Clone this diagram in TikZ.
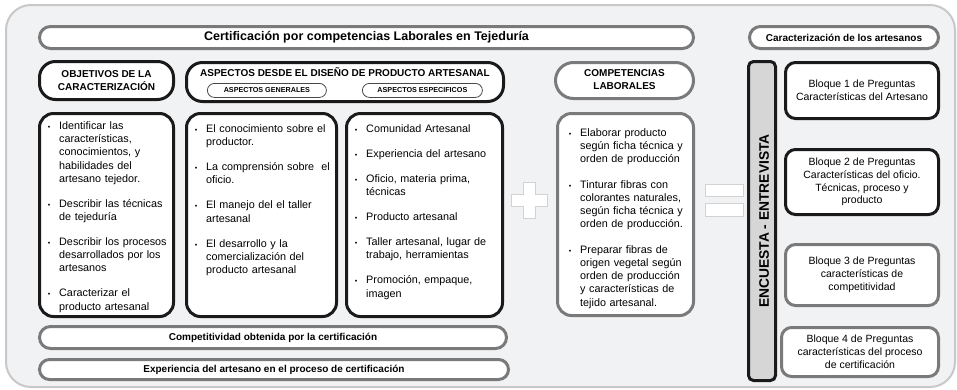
\documentclass[tikz,border=0pt]{standalone}
\usepackage{fontspec}
\setmainfont{Liberation Sans}
\usepackage{enumitem}
\definecolor{inkblack}{HTML}{1A1A1A}
\definecolor{rimgray}{HTML}{7A7A7A}
\definecolor{framegray}{HTML}{C8C8C8}
\definecolor{bgfill}{HTML}{F1F2F4}
\definecolor{barfill}{HTML}{D6D6D6}
\definecolor{signgray}{HTML}{D2D2D2}
\newcommand{\listfont}{\fontsize{10.8}{13.2}\selectfont}
\newcommand{\headfont}{\fontsize{10}{12.5}\selectfont\bfseries}
\setlist[itemize]{label={\fontsize{7}{7}\selectfont\textbullet},leftmargin=13pt,labelsep=9pt,
	topsep=0pt,partopsep=0pt,parsep=0pt,itemsep=11.8pt}
\tikzset{
	blackbox/.style={draw=inkblack,line width=3pt,fill=white,rounded corners=#1,anchor=north west,inner sep=0pt},
	blackbox/.default=14pt,
	graybox/.style={draw=rimgray,line width=3pt,fill=white,rounded corners=#1,anchor=north west,inner sep=0pt},
	graybox/.default=14pt,
	pill/.style={draw=inkblack!80,line width=0.8pt,fill=white,rounded corners=7pt,anchor=north west,
		minimum height=14pt,font=\fontsize{7.2}{8}\selectfont\bfseries},
	listtext/.style={anchor=north west,inner sep=0pt,text width=#1,align=left,font=\listfont},
	blocktext/.style={align=center,font=\fontsize{10.5}{12.8}\selectfont},
	sign/.style={draw=signgray,line width=0.6pt,fill=white}
}
\begin{document}
\begin{tikzpicture}[x=1pt,y=-1pt]
	\useasboundingbox (0,0) rectangle (957,389);
	\draw[draw=framegray,line width=2pt,fill=bgfill,rounded corners=25pt] (6,5) rectangle (955,387);

	\node[graybox=11pt,minimum width=654,minimum height=22,font=\fontsize{12.5}{14}\selectfont\bfseries] (title) at (38,25)
		{Certificación por competencias Laborales en Tejeduría};
	\node[graybox=11pt,minimum width=189,minimum height=22,font=\headfont] (carac) at (748,25)
		{Caracterización de los artesanos};

	\node[blackbox=16pt,minimum width=134,minimum height=38,align=center,font=\headfont] (objhead) at (38,60)
		{OBJETIVOS DE LA\\CARACTERIZACIÓN};
	\node[blackbox=16pt,minimum width=317,minimum height=39] (asphead) at (185,61) {};
	\node[font=\headfont] (asptitle) at (345,72) {ASPECTOS DESDE EL DISEÑO DE PRODUCTO ARTESANAL};
	\node[pill,minimum width=119] (genpill) at (207,83) {ASPECTOS GENERALES};
	\node[pill,minimum width=120] (esppill) at (362,83) {ASPECTOS ESPECIFICOS};
	\node[graybox=18pt,minimum width=138,minimum height=36,align=center,font=\headfont] (comphead) at (554,61)
		{\raisebox{-2pt}{\begin{tabular}{@{}c@{}}COMPETENCIAS\\LABORALES\end{tabular}}};

	\node[blackbox,minimum width=134,minimum height=203] (objlist) at (38,112) {};
	\node[blackbox,minimum width=150,minimum height=203] (genlist) at (185,112) {};
	\node[blackbox,minimum width=156,minimum height=203] (esplist) at (345,112) {};
	\node[graybox,minimum width=136,minimum height=202] (complist) at (556,112) {};

	\node[listtext=125pt] (objtext) at ([xshift=8pt,yshift=-4pt]objlist.north west) {
		\begin{itemize}
			\item Identificar las\\características,\\conocimientos, y\\habilidades del\\artesano tejedor.
			\item Describir las técnicas\\de tejeduría
			\item Describir los procesos\\desarrollados por los\\artesanos
			\item Caracterizar el\\producto artesanal
		\end{itemize}};
	\node[listtext=140pt] (gentext) at ([xshift=8pt,yshift=-7pt]genlist.north west) {
		\begin{itemize}
			\item El conocimiento sobre el\\productor.
			\item La comprensión sobre\ \ el\\oficio.
			\item El manejo del el taller\\artesanal
			\item El desarrollo y la\\comercialización del\\producto artesanal
		\end{itemize}};
	\node[listtext=146pt] (esptext) at ([xshift=8pt,yshift=-7pt]esplist.north west) {
		\begin{itemize}
			\item Comunidad Artesanal
			\item Experiencia del artesano
			\item Oficio, materia prima,\\técnicas
			\item Producto artesanal
			\item Taller artesanal, lugar de\\trabajo, herramientas
			\item Promoción, empaque,\\imagen
		\end{itemize}};
	\node[listtext=125pt] (comptext) at ([xshift=11pt,yshift=-11pt]complist.north west) {
		\begin{itemize}[itemsep=12.2pt]
			\item Elaborar producto\\según ficha técnica y\\orden de producción
			\item Tinturar fibras con\\colorantes naturales,\\según ficha técnica y\\orden de producción.
			\item Preparar fibras de\\origen vegetal según\\orden de producción\\y características de\\tejido artesanal.
		\end{itemize}};

	\node[graybox=11pt,minimum width=467,minimum height=22,font=\headfont] (competbar) at (38,325)
		{Competitividad obtenida por la certificación};
	\node[graybox=10pt,minimum width=469,minimum height=20,font=\headfont] (expbar) at (38,358)
		{Experiencia del artesano en el proceso de certificación};

	\draw[sign] (523,182) -- (535,182) -- (535,194) -- (547,194) -- (547,206) -- (535,206) -- (535,218)
		-- (523,218) -- (523,206) -- (511,206) -- (511,194) -- (523,194) -- cycle;
	\draw[sign] (705,184) rectangle (743,196);
	\draw[sign] (705,203) rectangle (743,216);

	\node[blackbox=5pt,fill=barfill,minimum width=27,minimum height=319] (encuesta) at (747,60) {};
	\node[rotate=90,font=\fontsize{13.8}{15}\selectfont\bfseries] (enctext) at ([xshift=2pt]encuesta.center)
		{ENCUESTA - ENTREVISTA};

	\node[blackbox=10pt,minimum width=153,minimum height=56,blocktext] (bloque1) at (784,61)
		{Bloque 1 de Preguntas\\Características del Artesano};
	\node[blackbox=10pt,minimum width=153,minimum height=65,blocktext] (bloque2) at (784,148)
		{Bloque 2 de Preguntas\\Características del oficio.\\Técnicas, proceso y\\producto};
	\node[graybox=10pt,minimum width=153,minimum height=61,blocktext] (bloque3) at (784,243)
		{Bloque 3 de Preguntas\\características de\\competitividad};
	\node[graybox=10pt,minimum width=157,minimum height=49,blocktext] (bloque4) at (780,326)
		{Bloque 4 de Preguntas\\características del proceso\\de certificación};
\end{tikzpicture}
\end{document}
